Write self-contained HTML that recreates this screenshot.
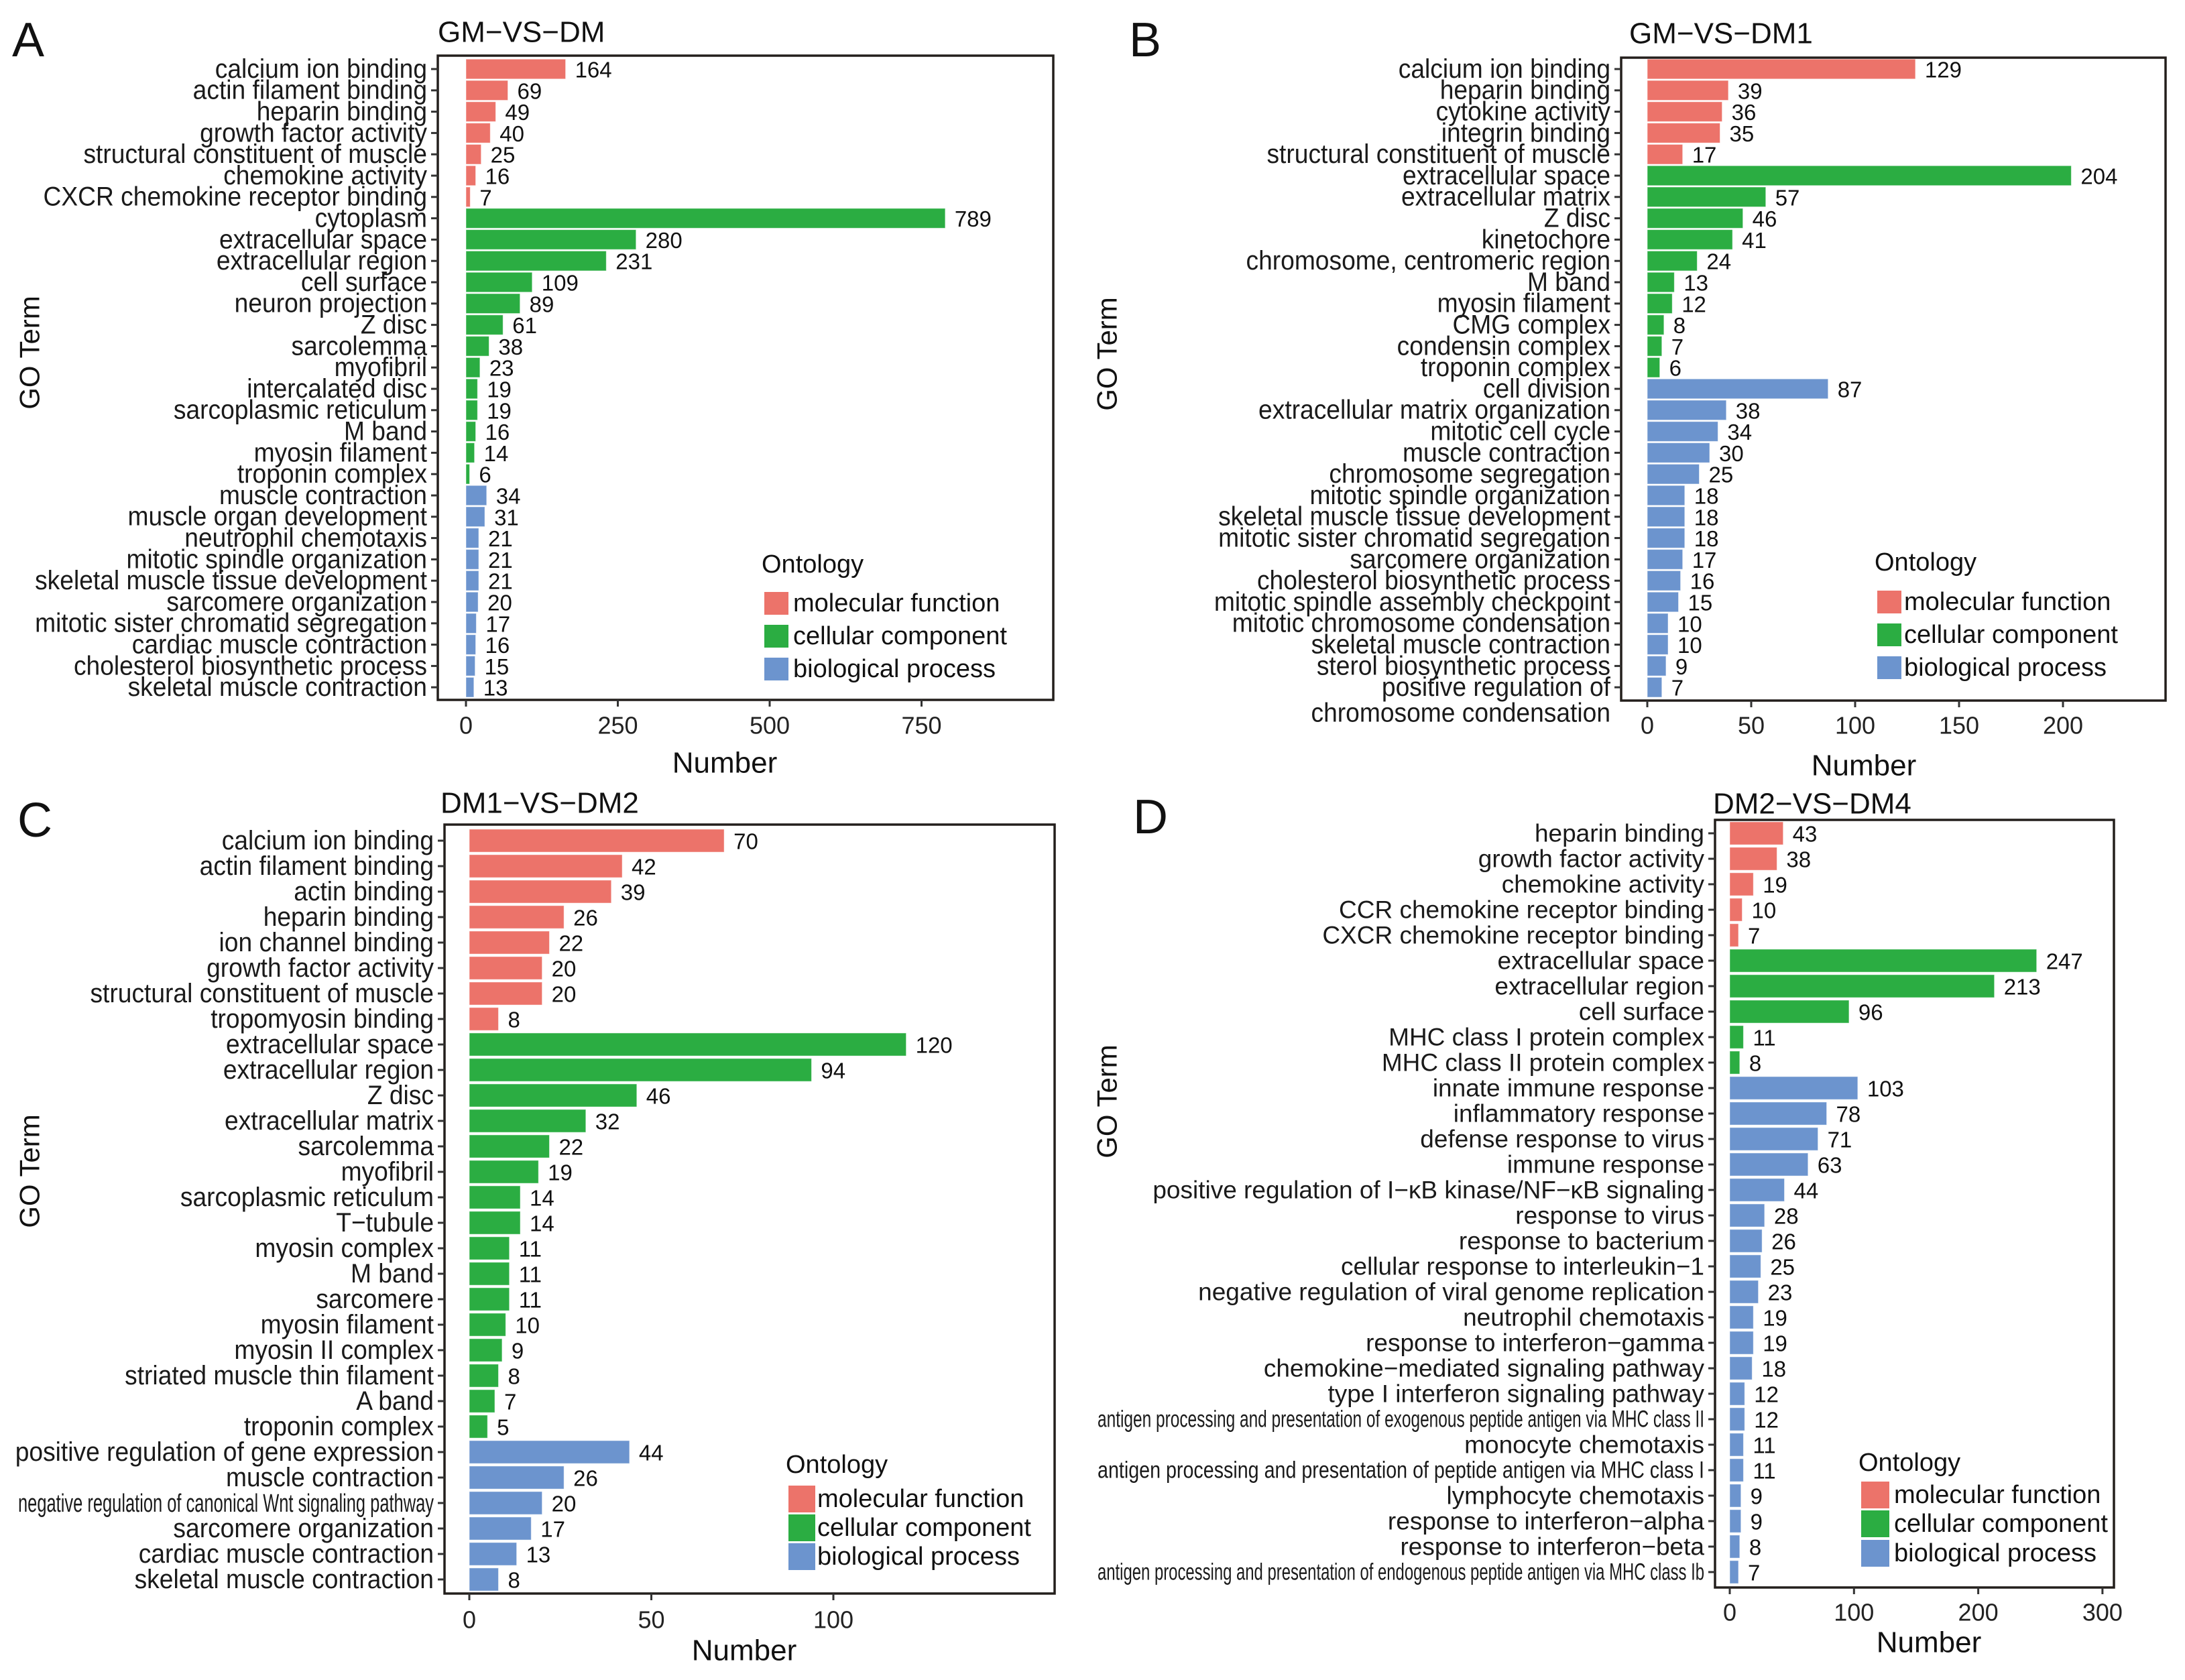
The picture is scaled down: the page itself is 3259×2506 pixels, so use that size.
<!DOCTYPE html>
<html><head><meta charset="utf-8">
<style>
html,body{margin:0;padding:0;background:#fff;}
svg{display:block;font-family:"Liberation Sans",Arial,sans-serif;}
</style></head>
<body>
<svg id="fig" width="3259" height="2506" viewBox="0 0 3259 2506" xmlns="http://www.w3.org/2000/svg">
<rect x="0" y="0" width="3259" height="2506" fill="#fff"/>
</svg>
<script>
// ---------- Panel A: GM-VS-DM ----------
const catsA = ["calcium ion binding","actin filament binding","heparin binding","growth factor activity","structural constituent of muscle","chemokine activity","CXCR chemokine receptor binding","cytoplasm","extracellular space","extracellular region","cell surface","neuron projection","Z disc","sarcolemma","myofibril","intercalated disc","sarcoplasmic reticulum","M band","myosin filament","troponin complex","muscle contraction","muscle organ development","neutrophil chemotaxis","mitotic spindle organization","skeletal muscle tissue development","sarcomere organization","mitotic sister chromatid segregation","cardiac muscle contraction","cholesterol biosynthetic process","skeletal muscle contraction"];
const valsA = [164,69,49,40,25,16,7,789,280,231,109,89,61,38,23,19,19,16,14,6,34,31,21,21,21,20,17,16,15,13];
const ontA = ["MF","MF","MF","MF","MF","MF","MF","CC","CC","CC","CC","CC","CC","CC","CC","CC","CC","CC","CC","CC","BP","BP","BP","BP","BP","BP","BP","BP","BP","BP"];
const ticksA = [0,250,500,750];

// ---------- Panel B: GM-VS-DM1 ----------
const catsB = ["calcium ion binding","heparin binding","cytokine activity","integrin binding","structural constituent of muscle","extracellular space","extracellular matrix","Z disc","kinetochore","chromosome, centromeric region","M band","myosin filament","CMG complex","condensin complex","troponin complex","cell division","extracellular matrix organization","mitotic cell cycle","muscle contraction","chromosome segregation","mitotic spindle organization","skeletal muscle tissue development","mitotic sister chromatid segregation","sarcomere organization","cholesterol biosynthetic process","mitotic spindle assembly checkpoint","mitotic chromosome condensation","skeletal muscle contraction","sterol biosynthetic process","positive regulation of|chromosome condensation"];
const valsB = [129,39,36,35,17,204,57,46,41,24,13,12,8,7,6,87,38,34,30,25,18,18,18,17,16,15,10,10,9,7];
const ontB = ["MF","MF","MF","MF","MF","CC","CC","CC","CC","CC","CC","CC","CC","CC","CC","BP","BP","BP","BP","BP","BP","BP","BP","BP","BP","BP","BP","BP","BP","BP"];
const ticksB = [0,50,100,150,200];

// ---------- Panel C: DM1-VS-DM2 ----------
const catsC = ["calcium ion binding","actin filament binding","actin binding","heparin binding","ion channel binding","growth factor activity","structural constituent of muscle","tropomyosin binding","extracellular space","extracellular region","Z disc","extracellular matrix","sarcolemma","myofibril","sarcoplasmic reticulum","T−tubule","myosin complex","M band","sarcomere","myosin filament","myosin II complex","striated muscle thin filament","A band","troponin complex","positive regulation of gene expression","muscle contraction","negative regulation of canonical Wnt signaling pathway","sarcomere organization","cardiac muscle contraction","skeletal muscle contraction"];
const valsC = [70,42,39,26,22,20,20,8,120,94,46,32,22,19,14,14,11,11,11,10,9,8,7,5,44,26,20,17,13,8];
const ontC = ["MF","MF","MF","MF","MF","MF","MF","MF","CC","CC","CC","CC","CC","CC","CC","CC","CC","CC","CC","CC","CC","CC","CC","CC","BP","BP","BP","BP","BP","BP"];
const ticksC = [0,50,100];

// ---------- Panel D: DM2-VS-DM4 ----------
const catsD = ["heparin binding","growth factor activity","chemokine activity","CCR chemokine receptor binding","CXCR chemokine receptor binding","extracellular space","extracellular region","cell surface","MHC class I protein complex","MHC class II protein complex","innate immune response","inflammatory response","defense response to virus","immune response","positive regulation of I−κB kinase/NF−κB signaling","response to virus","response to bacterium","cellular response to interleukin−1","negative regulation of viral genome replication","neutrophil chemotaxis","response to interferon−gamma","chemokine−mediated signaling pathway","type I interferon signaling pathway","antigen processing and presentation of exogenous peptide antigen via MHC class II","monocyte chemotaxis","antigen processing and presentation of peptide antigen via MHC class I","lymphocyte chemotaxis","response to interferon−alpha","response to interferon−beta","antigen processing and presentation of endogenous peptide antigen via MHC class Ib"];
const valsD = [43,38,19,10,7,247,213,96,11,8,103,78,71,63,44,28,26,25,23,19,19,18,12,12,11,11,9,9,8,7];
const ontD = ["MF","MF","MF","MF","MF","CC","CC","CC","CC","CC","BP","BP","BP","BP","BP","BP","BP","BP","BP","BP","BP","BP","BP","BP","BP","BP","BP","BP","BP","BP"];
const ticksD = [0,100,200,300];

const COLORS = {MF:"#EC736A", CC:"#2BAD42", BP:"#6C94CE"};
const LEGEND = [["MF","molecular function"],["CC","cellular component"],["BP","biological process"]];
const NS = "http://www.w3.org/2000/svg";
const svg = document.getElementById("fig");

function mk(tag, attrs, parent, text){
  const e = document.createElementNS(NS, tag);
  for (const k in attrs) e.setAttribute(k, attrs[k]);
  if (text !== undefined) e.textContent = text;
  (parent||svg).appendChild(e);
  return e;
}

function drawPanel(p){
  const g = mk("g", {});
  
  
  const xs = v => p.x0 + v * p.k;
  const ys = i => p.y0 + i * p.step;

  const L = mk("text", {x:p.letter[0], y:p.letter[1], "font-size":72, fill:"#111", "dominant-baseline":"central"}, g, p.id.toUpperCase());
  
  
  const T = mk("text", {x:p.title[0], y:p.title[1], "font-size":44, fill:"#111", "dominant-baseline":"central"}, g, p.titleText);
  
  

  const bh = p.step * p.bf;
  p.vals.forEach((v, i) => {
    const r = mk("rect", {x:p.x0, y:ys(i)-bh/2, width:Math.max(0, xs(v)-p.x0), height:bh, fill:COLORS[p.ont[i]], stroke:"#fff", "stroke-opacity":0.5, "stroke-width":1}, g);
    
    
    const t = mk("text", {x:xs(v)+14, y:ys(i)+1, "font-size":33, fill:"#111", "dominant-baseline":"central"}, g, String(v));
    
    
  });

  const F = mk("rect", {x:p.box[0], y:p.box[1], width:p.box[2]-p.box[0], height:p.box[3]-p.box[1], fill:"none", stroke:"#231f1c", "stroke-width":3.5}, g);
  
  

  p.cats.forEach((c, i) => {
    const y = ys(i);
    mk("line", {x1:p.box[0]-10, x2:p.box[0], y1:y, y2:y, stroke:"#333", "stroke-width":3}, g);
    const parts = c.split('|');
    const lx = p.box[0] - 16;
    const attrs = {x:0, y:0, "font-size":p.fs, fill:"#1a1a1a", "text-anchor":"end", "dominant-baseline":"central",
                   transform:`translate(${lx},${y}) scale(${p.sx},1)`};
    if (p.cond && p.cond[c]) { attrs.textLength = p.cond[c]/p.sx; attrs.lengthAdjust = "spacingAndGlyphs"; attrs["font-size"] = p.fs*0.95; }
    const t = mk("text", attrs, g, parts[0]);
    
    
    if (parts[1]) {
      const t2 = mk("text", {x:0, y:0, "font-size":p.fs, fill:"#1a1a1a", "text-anchor":"end", "dominant-baseline":"central",
                   transform:`translate(${lx},${y + p.step*1.2}) scale(${p.sx},1)`}, g, parts[1]);
      
      
    }
  });

  p.ticks.forEach(tv => {
    const x = xs(tv);
    mk("line", {x1:x, x2:x, y1:p.box[3], y2:p.box[3]+10, stroke:"#333", "stroke-width":3}, g);
    const t = mk("text", {x:x, y:p.tickY, "font-size":36, fill:"#222", "text-anchor":"middle", "dominant-baseline":"central"}, g, String(tv));
    
    
  });

  const XT = mk("text", {x:p.numX, y:p.numY, "font-size":44, fill:"#111", "text-anchor":"middle", "dominant-baseline":"central"}, g, "Number");
  
  
  const YT = mk("text", {x:0, y:0, "font-size":42, fill:"#111", "text-anchor":"middle", "dominant-baseline":"central", transform:`translate(${p.goX},${p.goY}) rotate(-90)`}, g, "GO Term");
  
  

  const lg = mk("g", {}, g);
  
  
  const LT = mk("text", {x:p.leg.x, y:p.leg.oy, "font-size":38, fill:"#111", "dominant-baseline":"central"}, lg, "Ontology");
  
  
  LEGEND.forEach((e, j) => {
    const cy = p.leg.rows[j];
    const k = mk("rect", {x:p.leg.x+4, y:cy - p.leg.kh/2, width:p.leg.kw, height:p.leg.kh, fill:COLORS[e[0]]}, lg);
    
    
    const t = mk("text", {x:p.leg.tx, y:cy, "font-size":38, fill:"#111", "dominant-baseline":"central"}, lg, e[1]);
    
    
  });
}

drawPanel({id:"a", titleText:"GM−VS−DM", cats:catsA, vals:valsA, ont:ontA, ticks:ticksA,
  box:[653,83,1571,1044], x0:695, k:0.906, y0:103, step:31.8, bf:0.93, fs:40, sx:0.93,
  letter:[18,60], title:[653,48], tickY:1082, numX:1081, numY:1138, goX:44, goY:526,
  leg:{x:1136, oy:842, rows:[900,949,998], kw:36, kh:34, tx:1183}});

drawPanel({id:"b", titleText:"GM−VS−DM1", cats:catsB, vals:valsB, ont:ontB, ticks:ticksB,
  box:[2418,86,3230,1045], x0:2457, k:3.1, y0:103, step:31.8, bf:0.93, fs:40, sx:0.93,
  letter:[1684,60], title:[2430,50], tickY:1082, numX:2780, numY:1142, goX:1651, goY:528,
  leg:{x:2796, oy:839, rows:[898,947,996], kw:36, kh:34, tx:2840}});

drawPanel({id:"c", titleText:"DM1−VS−DM2", cats:catsC, vals:valsC, ont:ontC, ticks:ticksC,
  box:[663,1230,1573,2377], x0:700, k:5.43, y0:1254, step:38.0, bf:0.9, fs:40, sx:0.93,
  letter:[26,1224], title:[657,1198], tickY:2416, numX:1110, numY:2462, goX:44, goY:1747,
  leg:{x:1172, oy:2185, rows:[2236,2279,2322], kw:40, kh:40, tx:1219},
  cond:{"negative regulation of canonical Wnt signaling pathway":620}});

drawPanel({id:"d", titleText:"DM2−VS−DM4", cats:catsD, vals:valsD, ont:ontD, ticks:ticksD,
  box:[2558,1223,3153,2368], x0:2580, k:1.853, y0:1243, step:38.0, bf:0.9, fs:37, sx:1.0,
  letter:[1690,1219], title:[2555,1199], tickY:2405, numX:2877, numY:2450, goX:1651, goY:1643,
  leg:{x:2772, oy:2182, rows:[2230,2273,2317], kw:42, kh:40, tx:2825},
  cond:{"antigen processing and presentation of exogenous peptide antigen via MHC class II":905,
        "antigen processing and presentation of peptide antigen via MHC class I":905,
        "antigen processing and presentation of endogenous peptide antigen via MHC class Ib":905}});
</script>
</body></html>
